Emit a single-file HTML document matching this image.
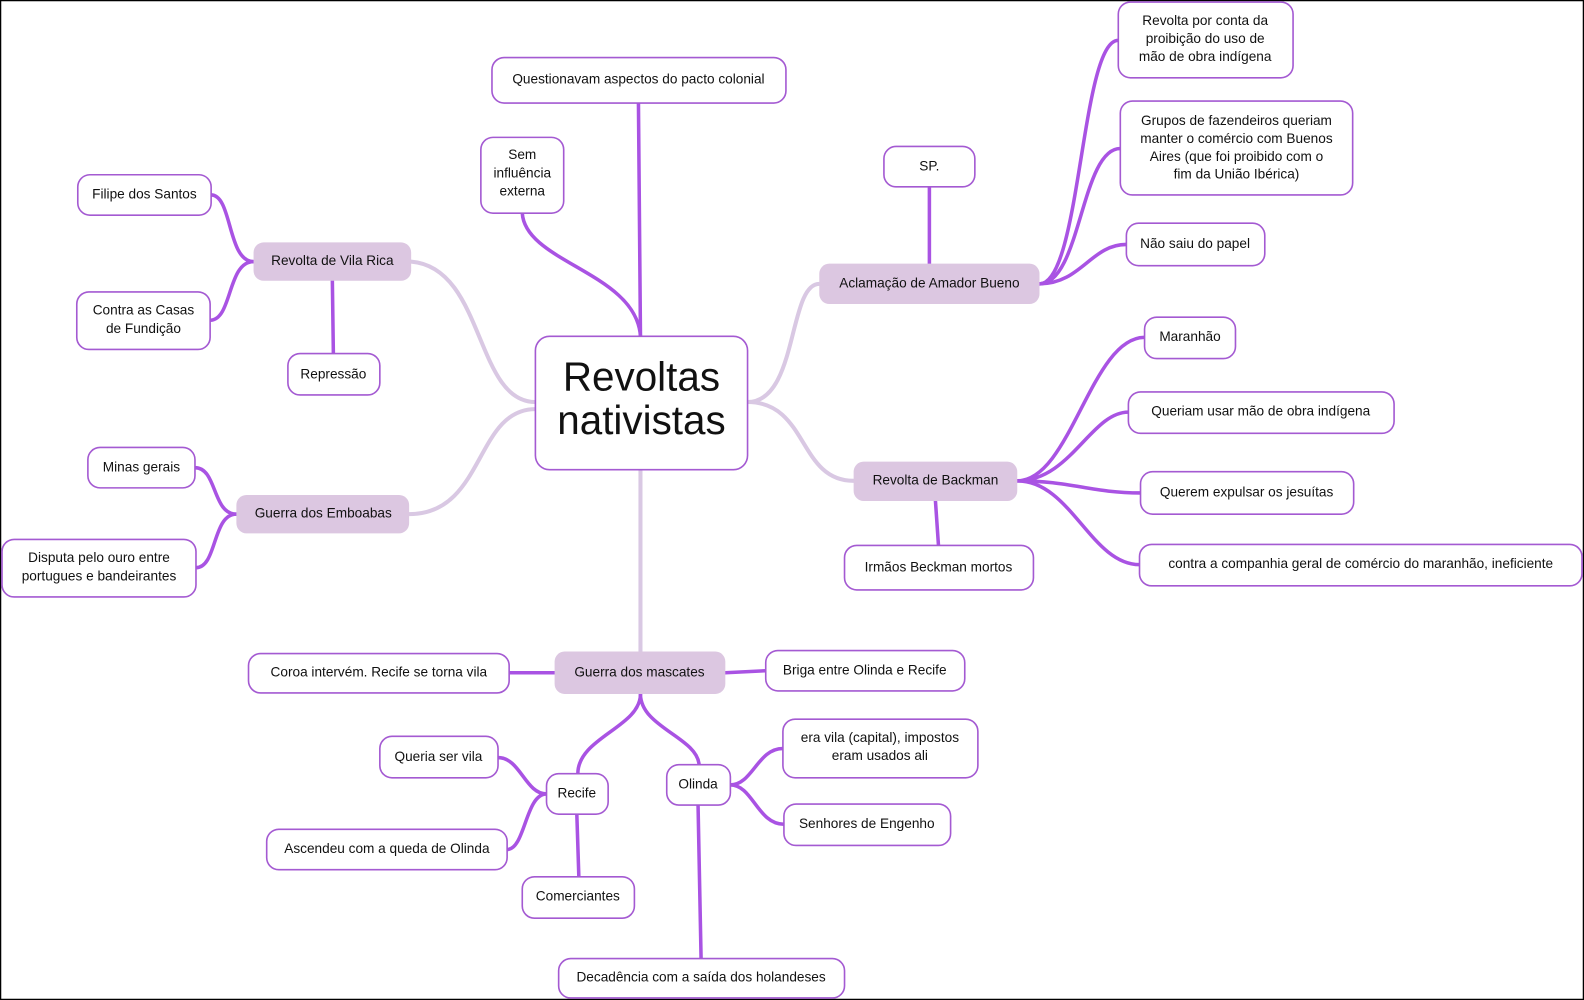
<!DOCTYPE html>
<html><head><meta charset="utf-8"><style>
html,body{margin:0;padding:0;background:#fff}
svg{display:block}
text{font-family:"Liberation Sans",sans-serif;font-size:13.5px;fill:#111;text-anchor:middle;dominant-baseline:middle}
.n{fill:#fff;stroke:#a45ad2;stroke-width:1.6}
.m{fill:#dcc7e1;stroke:none}
.l{fill:none;stroke:#d9c8e3;stroke-width:4;stroke-linecap:round}
.s{fill:none;stroke:#a953e3;stroke-width:3.5;stroke-linecap:round}
</style></head><body>
<svg width="1584" height="1000" viewBox="0 0 1568 990" preserveAspectRatio="none">
<rect x="0.5" y="0.5" width="1567" height="989" fill="#fff" stroke="#000" stroke-width="1.5"/>
<!-- main connectors -->
<path class="l" d="M530 398 C470 398 480 265 407 259"/>
<path class="l" d="M530 405 C470 405 480 509 405 509"/>
<path class="l" d="M740 398 C790 398 780 281 811 281"/>
<path class="l" d="M740 398 C800 398 790 476 845 476"/>
<path class="l" d="M634 465 L634 645"/>
<!-- sub connectors -->
<path class="s" d="M634 333 L632 102"/>
<path class="s" d="M634 333 C630 270 520 260 517 211"/>
<path class="s" d="M251 259 C225 259 230 193 209 193"/>
<path class="s" d="M251 259 C225 259 230 317 208 317"/>
<path class="s" d="M329 278 L330 350"/>
<path class="s" d="M234 509 C210 509 215 463 193 463"/>
<path class="s" d="M234 509 C210 509 215 562 194 562"/>
<path class="s" d="M549 666 L504 666"/>
<path class="s" d="M718 666 L758 664"/>
<path class="s" d="M634 687 C634 720 572 730 572 766"/>
<path class="s" d="M634 687 C634 720 690 730 692 757"/>
<path class="s" d="M541 786 C520 786 515 750 493 750"/>
<path class="s" d="M541 786 C520 786 520 841 502 841"/>
<path class="s" d="M571 806 L573 868"/>
<path class="s" d="M723 777 C745 777 750 741 775 741"/>
<path class="s" d="M723 777 C745 777 750 816 776 816"/>
<path class="s" d="M691 797 L694 949"/>
<path class="s" d="M920 261 L920 185"/>
<path class="s" d="M1029 281 C1070 281 1070 40 1107 40"/>
<path class="s" d="M1029 281 C1070 281 1070 147 1109 147"/>
<path class="s" d="M1029 281 C1070 281 1080 242 1115 242"/>
<path class="s" d="M1007 476 C1060 476 1080 334 1133 334"/>
<path class="s" d="M1007 476 C1060 476 1080 408 1117 408"/>
<path class="s" d="M1007 476 C1060 476 1080 488 1129 488"/>
<path class="s" d="M1007 476 C1060 476 1080 559 1128 559"/>
<path class="s" d="M926 496 L929 540"/>
<!-- center -->
<rect class="n" x="530" y="333" width="210" height="132" rx="14"/>
<text x="635" y="376" style="font-size:40px">Revoltas</text>
<text x="635" y="419" style="font-size:40px">nativistas</text>
<!-- main topics -->
<rect class="m" x="251" y="240" width="156" height="38" rx="10"/><text x="329" y="259">Revolta de Vila Rica</text>
<rect class="m" x="234" y="490" width="171" height="38" rx="10"/><text x="320" y="509">Guerra dos Emboabas</text>
<rect class="m" x="549" y="645" width="169" height="42" rx="10"/><text x="633" y="666">Guerra dos mascates</text>
<rect class="m" x="811" y="261" width="218" height="40" rx="10"/><text x="920" y="281">Aclamação de Amador Bueno</text>
<rect class="m" x="845" y="457" width="162" height="39" rx="10"/><text x="926" y="476">Revolta de Backman</text>
<!-- nodes -->
<rect class="n" x="487" y="57" width="291" height="45" rx="12"/><text x="632" y="79">Questionavam aspectos do pacto colonial</text>
<rect class="n" x="476" y="136" width="82" height="75" rx="12"/><text x="517" y="154">Sem</text><text x="517" y="172">influência</text><text x="517" y="190">externa</text>
<rect class="n" x="77" y="173" width="132" height="40" rx="12"/><text x="143" y="193">Filipe dos Santos</text>
<rect class="n" x="76" y="289" width="132" height="57" rx="12"/><text x="142" y="308">Contra as Casas</text><text x="142" y="326">de Fundição</text>
<rect class="n" x="285" y="350" width="91" height="41" rx="12"/><text x="330" y="371">Repressão</text>
<rect class="n" x="87" y="443" width="106" height="40" rx="12"/><text x="140" y="463">Minas gerais</text>
<rect class="n" x="2" y="534" width="192" height="57" rx="12"/><text x="98" y="553">Disputa pelo ouro entre</text><text x="98" y="571">portugues e bandeirantes</text>
<rect class="n" x="246" y="647" width="258" height="39" rx="12"/><text x="375" y="666">Coroa intervém. Recife se torna vila</text>
<rect class="n" x="758" y="644" width="197" height="40" rx="12"/><text x="856" y="664">Briga entre Olinda e Recife</text>
<rect class="n" x="541" y="766" width="61" height="40" rx="12"/><text x="571" y="786">Recife</text>
<rect class="n" x="376" y="729" width="117" height="41" rx="12"/><text x="434" y="750">Queria ser vila</text>
<rect class="n" x="264" y="821" width="238" height="40" rx="12"/><text x="383" y="841">Ascendeu com a queda de Olinda</text>
<rect class="n" x="517" y="868" width="111" height="41" rx="12"/><text x="572" y="888">Comerciantes</text>
<rect class="n" x="660" y="757" width="63" height="40" rx="12"/><text x="691" y="777">Olinda</text>
<rect class="n" x="775" y="712" width="193" height="58" rx="12"/><text x="871" y="731">era vila (capital), impostos</text><text x="871" y="749">eram usados ali</text>
<rect class="n" x="776" y="796" width="165" height="41" rx="12"/><text x="858" y="816">Senhores de Engenho</text>
<rect class="n" x="553" y="949" width="283" height="39" rx="12"/><text x="694" y="968">Decadência com a saída dos holandeses</text>
<rect class="n" x="875" y="145" width="90" height="40" rx="12"/><text x="920" y="165">SP.</text>
<rect class="n" x="1107" y="2" width="173" height="75" rx="12"/><text x="1193" y="21">Revolta por conta da</text><text x="1193" y="39">proibição do uso de</text><text x="1193" y="57">mão de obra indígena</text>
<rect class="n" x="1109" y="100" width="230" height="93" rx="12"/><text x="1224" y="120">Grupos de fazendeiros queriam</text><text x="1224" y="138">manter o comércio com Buenos</text><text x="1224" y="156">Aires (que foi proibido com o</text><text x="1224" y="173">fim da União Ibérica)</text>
<rect class="n" x="1115" y="221" width="137" height="42" rx="12"/><text x="1183" y="242">Não saiu do papel</text>
<rect class="n" x="1133" y="314" width="90" height="41" rx="12"/><text x="1178" y="334">Maranhão</text>
<rect class="n" x="1117" y="388" width="263" height="41" rx="12"/><text x="1248" y="408">Queriam usar mão de obra indígena</text>
<rect class="n" x="1129" y="467" width="211" height="42" rx="12"/><text x="1234" y="488">Querem expulsar os jesuítas</text>
<rect class="n" x="1128" y="539" width="438" height="41" rx="12"/><text x="1347" y="559">contra a companhia geral de comércio do maranhão, ineficiente</text>
<rect class="n" x="836" y="540" width="187" height="44" rx="12"/><text x="929" y="562">Irmãos Beckman mortos</text>
</svg>
</body></html>
